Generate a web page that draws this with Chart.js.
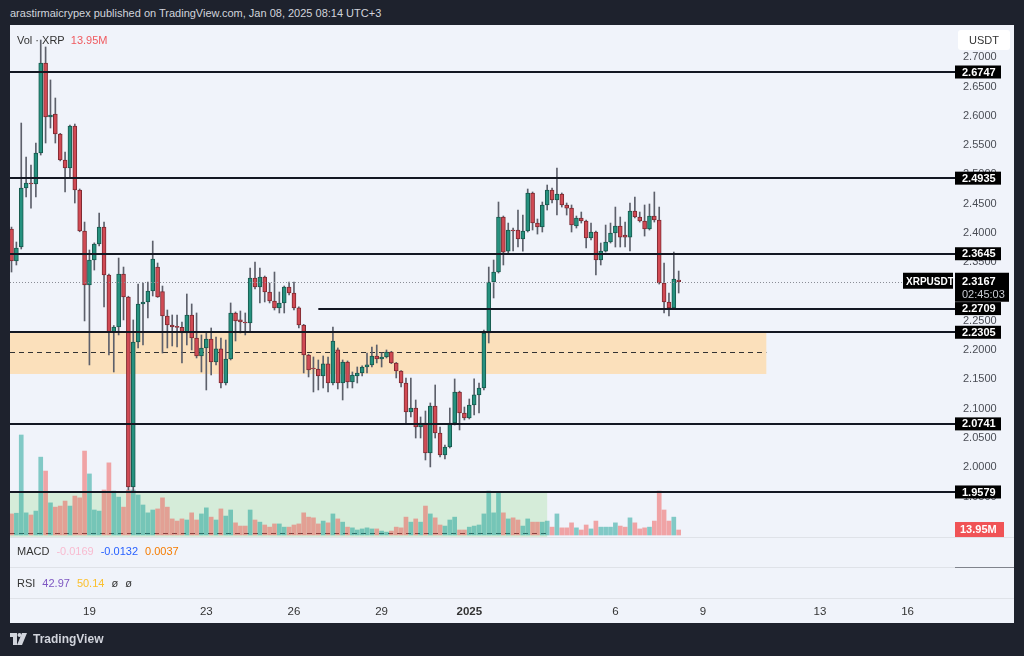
<!DOCTYPE html>
<html><head><meta charset="utf-8">
<script src="https://cdn.jsdelivr.net/npm/chart.js@4.4.1/dist/chart.umd.min.js"></script>
<style>
html,body{margin:0;padding:0;background:#1e222d;width:1024px;height:656px;overflow:hidden;font-family:'Liberation Sans',Arial,sans-serif}
#hdr{position:absolute;left:10px;top:7px;color:#d1d4dc;font-size:11px;white-space:nowrap}
#panel{position:absolute;left:10px;top:25px;width:1004px;height:598px;background:#f0f3fa}
#c{position:absolute;left:0;top:0}
.leg{position:absolute;left:7px;font-size:11px;color:#333;white-space:nowrap;line-height:14px}
.leg span{margin-right:7px}
#foot{position:absolute;left:10px;top:632px;color:#d1d4dc;font-size:12px;font-weight:600;display:flex;align-items:center}
#foot svg{margin-right:6px}
</style></head>
<body>
<div id="hdr">arastirmaicrypex published on TradingView.com, Jan 08, 2025 08:14 UTC+3</div>
<div id="panel">
<canvas id="c" width="1004" height="598"></canvas>
<div class="leg" style="top:8px">Vol · XRP&nbsp;&nbsp;<span style="color:#f05a5f">13.95M</span></div>
<div class="leg" style="top:519px"><span>MACD</span><span style="color:#f8bbd0">-0.0169</span><span style="color:#2962ff">-0.0132</span><span style="color:#f57c00">0.0037</span></div>
<div class="leg" style="top:551px"><span>RSI</span><span style="color:#7e57c2">42.97</span><span style="color:#fbc02d">50.14</span><span>ø</span><span>ø</span></div>
</div>
<div id="foot"><svg width="17" height="12" viewBox="0 0 17 12"><path d="M0 0H7V12H3V4H0Z" fill="#d1d4dc"/><circle cx="9.5" cy="2" r="2" fill="#d1d4dc"/><path d="M12 0H17L12 12H7Z" fill="#d1d4dc"/></svg>TradingView</div>
<script>
const candleOpen = [2.4067,2.3521,2.3760,2.4767,2.4852,2.4835,2.5364,2.6901,2.5979,2.6030,2.5689,2.5245,2.5108,2.5825,2.4733,2.4033,2.3111,2.3538,2.3811,2.4101,2.3282,2.2310,2.2395,2.3299,2.2906,1.9664,2.2139,2.2788,2.2822,2.3009,2.3418,2.3000,2.2583,2.2429,2.2395,2.2387,2.2293,2.2600,2.2207,2.1900,2.2037,2.2190,2.1798,2.2020,2.1439,2.1849,2.2634,2.2515,2.2480,2.2463,2.3231,2.3077,2.3248,2.2992,2.2839,2.2720,2.2805,2.3077,2.2975,2.2720,2.2429,2.1917,2.1695,2.1678,2.1559,2.1764,2.1439,2.2003,2.1439,2.1798,2.1456,2.1559,2.1610,2.1712,2.1747,2.1900,2.1849,2.1883,2.1968,2.1781,2.1644,2.1439,2.0944,2.1012,2.0688,2.0756,2.0244,2.1046,2.0585,2.0210,2.0347,2.0756,2.1286,2.0927,2.0842,2.1063,2.1235,2.1354,2.2293,2.3162,2.3333,2.4272,2.3691,2.4050,2.4050,2.3896,2.4033,2.4682,2.4169,2.4101,2.4477,2.4733,2.4562,2.4665,2.4477,2.4425,2.4118,2.4255,2.4204,2.3913,2.4016,2.3538,2.3691,2.3845,2.3999,2.4118,2.3964,2.3930,2.4374,2.4272,2.4204,2.4067,2.4289,2.4221,2.3145,2.2822,2.2720,2.3197];
const candleHigh = [2.4100,2.3845,2.5876,2.5296,2.5160,2.5535,2.7293,2.7174,2.6611,2.6303,2.5700,2.5381,2.5840,2.5859,2.4750,2.4186,2.3709,2.3830,2.4340,2.4186,2.3300,2.2420,2.3572,2.3418,2.2920,2.2515,2.3128,2.3145,2.3162,2.3862,2.3487,2.3094,2.2685,2.2600,2.2600,2.2480,2.2958,2.2788,2.2634,2.2259,2.2293,2.2378,2.2224,2.2207,2.2173,2.2805,2.2651,2.2668,2.2634,2.3401,2.3504,2.3401,2.3265,2.3145,2.3333,2.2992,2.3094,2.3162,2.3162,2.2740,2.2440,2.1930,2.1883,2.1832,2.1900,2.1883,2.2395,2.2037,2.1832,2.1815,2.1627,2.1712,2.1730,2.1951,2.2054,2.2088,2.1951,2.2003,2.1980,2.1790,2.1650,2.1525,2.1525,2.1149,2.0859,2.0961,2.1098,2.1405,2.0688,2.0380,2.1012,2.1508,2.1300,2.1029,2.1166,2.1508,2.1439,2.2344,2.3418,2.3538,2.4528,2.4289,2.4169,2.4084,2.4391,2.4306,2.4750,2.4699,2.4238,2.4528,2.4818,2.4767,2.5108,2.4682,2.4511,2.4477,2.4289,2.4357,2.4221,2.4169,2.4033,2.3828,2.4135,2.4169,2.4442,2.4272,2.4186,2.4511,2.4613,2.4357,2.4477,2.4494,2.4699,2.4442,2.3487,2.2975,2.3674,2.3350];
const candleLow = [2.3333,2.3453,2.3726,2.4613,2.4425,2.4613,2.5330,2.5535,2.5791,2.5535,2.5230,2.4699,2.4938,2.4511,2.4020,2.2498,2.1747,2.3367,2.3780,2.2737,2.1917,2.1627,2.2259,2.2515,1.9613,1.9600,2.2037,2.2088,2.2549,2.2924,2.2900,2.1951,2.2037,2.2071,2.2054,2.1781,2.2088,2.2003,2.1866,2.1627,2.1320,2.1576,2.1747,2.1354,2.1405,2.1832,2.2156,2.2293,2.2259,2.2310,2.3043,2.2805,2.2822,2.2805,2.2685,2.2634,2.2634,2.2941,2.2685,2.2378,2.1610,2.1542,2.1286,2.1320,2.1354,2.1286,2.1405,2.1337,2.1149,2.1354,2.1354,2.1439,2.1560,2.1610,2.1712,2.1781,2.1712,2.1866,2.1770,2.1525,2.1371,2.0739,2.0859,2.0500,2.0500,2.0125,2.0006,2.0500,2.0176,2.0142,2.0330,2.0722,2.0637,2.0808,2.0825,2.0893,2.0927,2.1320,2.2122,2.2890,2.3316,2.3453,2.3657,2.3692,2.3760,2.3691,2.4016,2.4050,2.3981,2.4016,2.4391,2.4511,2.4306,2.4442,2.4306,2.4016,2.4084,2.4169,2.3743,2.3879,2.3282,2.3453,2.3674,2.3828,2.3760,2.3760,2.3760,2.3692,2.4255,2.4186,2.3947,2.4050,2.4186,2.3128,2.2634,2.2583,2.2703,2.2975];
const candleClose = [2.3521,2.3743,2.4767,2.4852,2.4835,2.5364,2.6901,2.5979,2.6013,2.5689,2.5245,2.5108,2.5825,2.4733,2.4033,2.3111,2.3538,2.3811,2.4101,2.3282,2.2310,2.2395,2.3299,2.2906,1.9664,2.2139,2.2788,2.2822,2.3009,2.3555,2.2906,2.2583,2.2429,2.2395,2.2387,2.2293,2.2600,2.2207,2.1900,2.2037,2.2190,2.1798,2.2020,2.1439,2.1849,2.2634,2.2498,2.2480,2.2463,2.3231,2.3077,2.3248,2.2992,2.2839,2.2720,2.2805,2.3077,2.2975,2.2720,2.2429,2.1917,2.1661,2.1678,2.1559,2.1764,2.1439,2.2156,2.1439,2.1798,2.1456,2.1576,2.1610,2.1712,2.1747,2.1900,2.1849,2.1883,2.1968,2.1781,2.1644,2.1439,2.0944,2.1012,2.0688,2.0756,2.0244,2.1046,2.0585,2.0210,2.0347,2.0756,2.1286,2.0927,2.0842,2.1063,2.1235,2.1354,2.2293,2.3162,2.3333,2.4272,2.3674,2.4050,2.4033,2.3896,2.4033,2.4682,2.4169,2.4101,2.4477,2.4733,2.4562,2.4665,2.4477,2.4425,2.4135,2.4255,2.4204,2.3913,2.4016,2.3538,2.3691,2.3845,2.3999,2.4118,2.3930,2.3930,2.4374,2.4272,2.4204,2.4067,2.4289,2.4221,2.3145,2.2822,2.2720,2.3214,2.3167];
const volumeM = [59,61,280,62,56,67,218,179,90,78,81,95,81,109,104,235,171,70,67,126,202,123,106,78,126,126,112,84,62,70,73,104,78,45,39,45,42,62,42,59,76,50,42,73,53,70,34,25,25,70,42,36,28,22,31,31,22,22,28,31,62,50,48,31,39,34,59,45,36,22,20,14,17,20,17,17,11,8,11,22,20,50,36,45,36,81,59,48,28,25,42,50,14,14,22,25,28,59,123,62,118,62,45,48,42,25,45,36,36,36,39,22,59,20,20,34,20,14,28,17,39,22,22,22,34,25,22,48,34,17,20,22,39,123,70,39,50,13.95];
const dayTickIndex = [16,40,58,76,94,124,142,166,184];
const dayTickLabels = ['19','23','26','29','2025','6','9','13','16'];
const priceTicks = [1.95,2.00,2.05,2.10,2.15,2.20,2.25,2.30,2.35,2.40,2.45,2.50,2.55,2.60,2.65,2.70];
const levelPrices = [2.6747,2.4935,2.3645,2.2709,2.2305,2.0741,1.9579];
const levelStartIndex = [null,null,null,63,null,null,null];
const orangeZone = [2.1593,2.2305];
const orangeZoneMid = 2.1970;
const orangeZoneEndIndex = 155;
const greenZone = [1.8811,1.9579];
const greenZoneDash = 1.8880;
const greenZoneEndIndex = 110;
const lastPrice = 2.3167;
const symbolLabel = 'XRPUSDT';
const countdownLabel = '02:45:03';
const lastVolumeLabel = '13.95M';
const xRange = [-0.31,193.74];
const priceRange = [1.77693,2.75492];
const volumeRange = [-176.4,1428];

const UP='#26917f', DOWN='#d14a54', UPB='#17594d', DOWNB='#7e2a31';
const FONT='"Liberation Sans", Arial, sans-serif';
const isUp = i => candleClose[i] >= candleOpen[i];
const idx = candleOpen.map((_,i)=>i);

const overlay = {
  id:'overlay',
  beforeDatasetsDraw(chart){
    const {ctx, chartArea:a, scales:{x,y}} = chart;
    ctx.save();
    ctx.fillStyle='#fbe0bb';
    let y1=y.getPixelForValue(orangeZone[1]), y0=y.getPixelForValue(orangeZone[0]);
    ctx.fillRect(a.left,y1,x.getPixelForValue(orangeZoneEndIndex)-a.left,y0-y1);
    ctx.fillStyle='#d5ecd9';
    y1=y.getPixelForValue(greenZone[1]); y0=y.getPixelForValue(greenZone[0]);
    ctx.fillRect(a.left,y1,x.getPixelForValue(greenZoneEndIndex)-a.left,y0-y1);
    ctx.strokeStyle='#333'; ctx.lineWidth=1; ctx.setLineDash([5,4]);
    let ym=Math.round(y.getPixelForValue(orangeZoneMid))+0.5;
    ctx.beginPath(); ctx.moveTo(a.left,ym); ctx.lineTo(x.getPixelForValue(orangeZoneEndIndex),ym); ctx.stroke();
    ym=Math.round(y.getPixelForValue(greenZoneDash))+0.5;
    ctx.beginPath(); ctx.moveTo(a.left,ym); ctx.lineTo(x.getPixelForValue(greenZoneEndIndex),ym); ctx.stroke();
    ctx.restore();
  },
  afterDatasetsDraw(chart){
    const {ctx, chartArea:a, scales:{x,y}} = chart;
    ctx.save();
    ctx.strokeStyle='#131722'; ctx.lineWidth=2;
    levelPrices.forEach((p,k)=>{
      const yy=Math.round(y.getPixelForValue(p));
      const xs = levelStartIndex[k]==null ? a.left : x.getPixelForValue(levelStartIndex[k]);
      ctx.beginPath(); ctx.moveTo(xs,yy); ctx.lineTo(a.right,yy); ctx.stroke();
    });
    ctx.strokeStyle='#8a8d96'; ctx.lineWidth=1; ctx.setLineDash([1,2]);
    const yp=Math.round(y.getPixelForValue(lastPrice))+0.5;
    ctx.beginPath(); ctx.moveTo(a.left,yp); ctx.lineTo(a.right-52,yp); ctx.stroke();
    ctx.restore();
  },
  afterDraw(chart){
    const {ctx, chartArea:a, scales:{y,yVol}} = chart;
    ctx.save();
    ctx.fillStyle='#dfe2e8';
    const pb = Math.round(y.getPixelForValue(greenZone[0]));
    ctx.fillRect(0,pb,chart.width,1);
    ctx.fillRect(0,pb+30,a.right,1);
    ctx.fillRect(0,a.bottom,chart.width,1);
    ctx.fillStyle='#80838c';
    ctx.fillRect(a.right,pb+30,chart.width-a.right,1);
    ctx.textBaseline='middle'; ctx.textAlign='left';
    ctx.font='600 11px '+FONT;
    levelPrices.forEach(p=>{
      const yy=y.getPixelForValue(p);
      ctx.fillStyle='#000'; ctx.fillRect(a.right,yy-6.5,46,13);
      ctx.fillStyle='#fff'; ctx.fillText(p.toFixed(4),a.right+7,yy+0.5);
    });
    const yp=y.getPixelForValue(lastPrice);
    ctx.fillStyle='#000'; ctx.fillRect(a.right,yp-9,54,29);
    ctx.fillRect(a.right-52,yp-9,50,16);
    ctx.fillStyle='#fff'; ctx.fillText(lastPrice.toFixed(4),a.right+7,yp);
    ctx.font='600 10px '+FONT;
    ctx.fillText(symbolLabel,a.right-49,yp);
    ctx.fillStyle='#c9ccd4'; ctx.font='11px '+FONT;
    ctx.fillText(countdownLabel,a.right+7,yp+13);
    const yv=yVol.getPixelForValue(volumeM[volumeM.length-1]);
    ctx.fillStyle='#f05356'; ctx.fillRect(a.right,yv-8,49,15);
    ctx.fillStyle='#fff'; ctx.font='600 11px '+FONT;
    ctx.fillText(lastVolumeLabel,a.right+5,yv-0.5);
    ctx.fillStyle='#fff';
    ctx.beginPath(); ctx.roundRect(a.right+3,5,52,20,3); ctx.fill();
    ctx.fillStyle='#333'; ctx.font='11px '+FONT; ctx.textAlign='center';
    ctx.fillText('USDT',a.right+29,15.5);
    ctx.restore();
  }
};

new Chart(document.getElementById('c'),{
  type:'bar',
  data:{datasets:[
    {label:'body',order:0,grouped:false,yAxisID:'y',barThickness:4,minBarLength:1,borderWidth:1,borderSkipped:false,
     data:idx.map(i=>({x:i,y:[Math.min(candleOpen[i],candleClose[i]),Math.max(candleOpen[i],candleClose[i])]})),
     backgroundColor:idx.map(i=>isUp(i)?UP:DOWN),borderColor:idx.map(i=>isUp(i)?UPB:DOWNB)},
    {label:'wick',order:1,grouped:false,yAxisID:'y',barThickness:1,borderWidth:0,
     data:idx.map(i=>({x:i,y:[candleLow[i],candleHigh[i]]})),backgroundColor:'#5d606b'},
    {label:'volume',order:2,grouped:false,yAxisID:'yVol',barThickness:4,borderWidth:0,
     data:idx.map(i=>({x:i,y:volumeM[i]})),
     backgroundColor:idx.map(i=>isUp(i)?'rgba(38,166,154,0.55)':'rgba(239,83,80,0.5)')}
  ]},
  options:{
    responsive:false,devicePixelRatio:1,animation:false,
    layout:{padding:0},
    plugins:{legend:{display:false},tooltip:{enabled:false}},
    scales:{
      x:{type:'linear',min:xRange[0],max:xRange[1],offset:false,
         grid:{display:false,drawTicks:false},border:{display:false},
         afterBuildTicks:s=>{s.ticks=dayTickIndex.map(v=>({value:v}));},
         afterFit:s=>{s.height=25;s.paddingLeft=0;s.paddingRight=0;},
         ticks:{autoSkip:false,maxRotation:0,padding:7,color:'#333',
           font:c=>({family:FONT,size:11.5,weight:(c.tick&&c.tick.value===94)?'bold':'normal'}),
           callback:v=>dayTickLabels[dayTickIndex.indexOf(v)]}},
      y:{type:'linear',position:'right',min:priceRange[0],max:priceRange[1],
         grid:{display:false,drawTicks:false},border:{display:false},
         afterBuildTicks:s=>{s.ticks=priceTicks.map(v=>({value:v}));},
         afterFit:s=>{s.width=59;s.paddingTop=0;s.paddingBottom=0;},
         ticks:{padding:8,color:'#4a4d55',font:{family:FONT,size:11},callback:v=>v.toFixed(4)}},
      yVol:{type:'linear',display:false,min:volumeRange[0],max:volumeRange[1]}
    }
  },
  plugins:[overlay]
});
</script>
</body></html>
